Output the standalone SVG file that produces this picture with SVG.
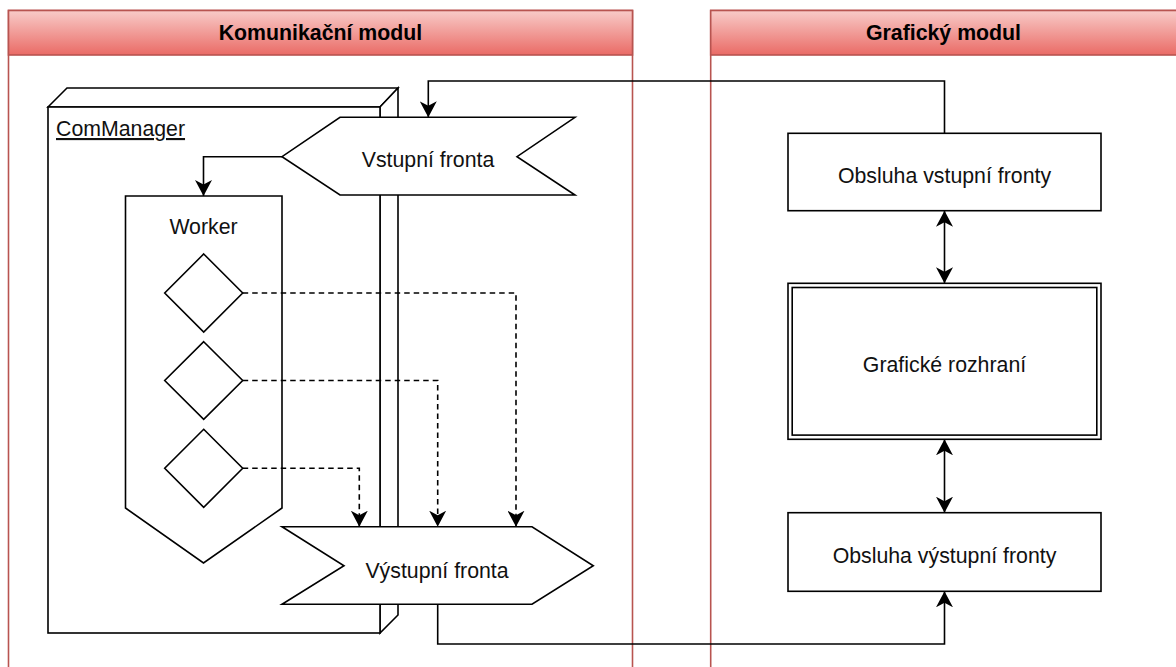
<svg xmlns="http://www.w3.org/2000/svg" width="1176" height="667" viewBox="0 0 1176 667">
  <style>
    .pool { fill: #ffffff; stroke: #b85450; stroke-width: 1.6; }
    .head { fill: url(#headFill); stroke: #b85450; stroke-width: 1.6; }
    .title { font-family: "Liberation Sans", Arial, sans-serif; font-size: 21.3px; font-weight: bold; fill: #000000; text-anchor: middle; }
    .shape { fill: #ffffff; stroke: #000000; stroke-width: 1.6; }
    .label { font-family: "Liberation Sans", Arial, sans-serif; font-size: 21.3px; fill: #111111; text-anchor: middle; }
    .edge { fill: none; stroke: #000000; stroke-width: 1.6; }
    .dash { stroke-dasharray: 5.5 4; }
  </style>
  <defs>
    <linearGradient id="headFill" x1="0" y1="0" x2="0" y2="1">
      <stop offset="0" stop-color="#f8cbc8"/>
      <stop offset="1" stop-color="#ea6b66"/>
    </linearGradient>
    <marker id="arrow" viewBox="0 0 16 17" refX="16" refY="8.5" markerWidth="16" markerHeight="17" markerUnits="userSpaceOnUse" orient="auto-start-reverse">
      <path d="M16,8.5 L0,0 L4.5,8.5 L0,17 Z" fill="#000000" stroke="none"/>
    </marker>
  </defs>

  <!-- swimlanes -->
  <g id="pool-komunikacni">
    <rect class="pool" x="8.5" y="10.5" width="624" height="700"/>
    <rect class="head" x="8.5" y="10.5" width="624" height="44.5"/>
    <text class="title" x="320.5" y="40">Komunikační modul</text>
  </g>
  <g id="pool-graficky">
    <rect class="pool" x="710.7" y="10.5" width="470" height="700"/>
    <rect class="head" x="710.7" y="10.5" width="470" height="44.5"/>
    <text class="title" x="943.5" y="40">Grafický modul</text>
  </g>

  <!-- ComManager 3D node -->
  <g id="commanager">
    <polygon class="shape" points="48,107 67,88 398,88 380,107"/>
    <polygon class="shape" points="380,107 398,88 398,615 380,633"/>
    <rect class="shape" x="48" y="107" width="332" height="526"/>
    <text class="label" x="56" y="136" style="text-anchor:start" text-decoration="underline">ComManager</text>
  </g>

  <!-- Worker -->
  <g id="worker">
    <polygon class="shape" points="125.5,196 282,196 282,508 203.5,563 125.5,508"/>
    <text class="label" x="203.5" y="234">Worker</text>
  </g>
  <g id="task-1">
    <polygon class="shape" points="203.7,254 242.7,293 203.7,332 164.7,293"/>
  </g>
  <g id="task-2">
    <polygon class="shape" points="203.7,341.7 242.7,380.5 203.7,419.3 164.7,380.5"/>
  </g>
  <g id="task-3">
    <polygon class="shape" points="203.7,429.3 242.7,468.3 203.7,507.3 164.7,468.3"/>
  </g>

  <!-- queues -->
  <g id="vstupni-fronta">
    <polygon class="shape" points="340,117.3 575,117.3 517,156.7 575,195 340,195 282,156.7"/>
    <text class="label" x="428" y="166.5">Vstupní fronta</text>
  </g>
  <g id="vystupni-fronta">
    <polygon class="shape" points="282,526.7 532,526.7 593.3,565.7 532,604.3 282,604.3 344,565.7"/>
    <text class="label" x="437" y="577.5">Výstupní fronta</text>
  </g>

  <!-- graphics module -->
  <g id="obsluha-vstupni">
    <rect class="shape" x="788" y="133.3" width="313" height="77.4"/>
    <text class="label" x="944.5" y="183.3">Obsluha vstupní fronty</text>
  </g>
  <g id="graficke-rozhrani">
    <rect class="shape" x="788" y="283.3" width="313" height="156"/>
    <rect class="shape" x="792.2" y="287.5" width="304.6" height="147.6"/>
    <text class="label" x="944.5" y="371.7">Grafické rozhraní</text>
  </g>
  <g id="obsluha-vystupni">
    <rect class="shape" x="788" y="512.7" width="313" height="78.6"/>
    <text class="label" x="944.5" y="563.3">Obsluha výstupní fronty</text>
  </g>

  <!-- connectors -->
  <g id="connectors">
    <path class="edge" d="M944.5,133.3 V81 H428.3 V117.3" marker-end="url(#arrow)"/>
    <path class="edge" d="M282,156.7 H203.5 V196" marker-end="url(#arrow)"/>
    <path class="edge dash" d="M242.7,293 H516 V526.7" marker-end="url(#arrow)"/>
    <path class="edge dash" d="M242.7,380.5 H437.7 V526.7" marker-end="url(#arrow)"/>
    <path class="edge dash" d="M242.7,468.3 H359.3 V526.7" marker-end="url(#arrow)"/>
    <path class="edge" d="M437.7,604.3 V644 H944.5 V591.3" marker-end="url(#arrow)"/>
    <path class="edge" d="M944.5,210.7 V283.3" marker-start="url(#arrow)" marker-end="url(#arrow)"/>
    <path class="edge" d="M944.5,439.3 V512.7" marker-start="url(#arrow)" marker-end="url(#arrow)"/>
  </g>
</svg>
